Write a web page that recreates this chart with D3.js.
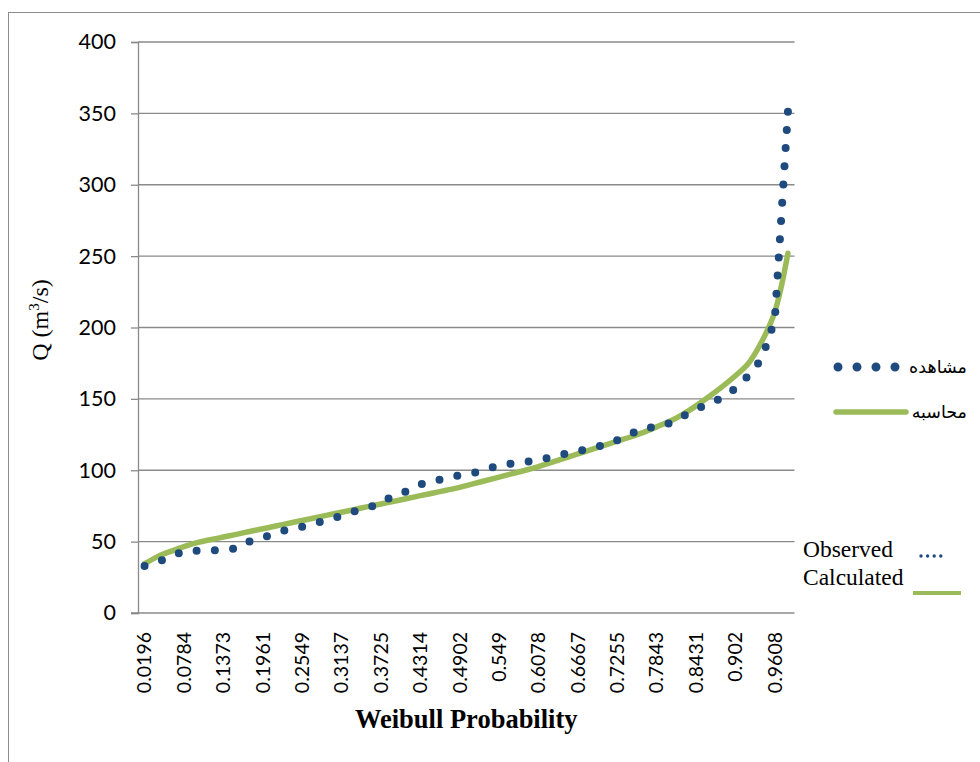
<!DOCTYPE html>
<html><head><meta charset="utf-8">
<script src="https://cdn.jsdelivr.net/npm/d3@7"></script>
<style>body{margin:0;background:#fff}svg{display:block}</style>
</head><body>
<svg id="chart" width="980" height="762"></svg>
<script>
// ---- data ----
const categories = ["0.0196","0.0392","0.0588","0.0784","0.098","0.1176","0.1373","0.1569","0.1765","0.1961",
"0.2157","0.2353","0.2549","0.2745","0.2941","0.3137","0.3333","0.3529","0.3725","0.3922",
"0.4118","0.4314","0.451","0.4706","0.4902","0.5098","0.5294","0.549","0.5686","0.5882",
"0.6078","0.6275","0.6471","0.6667","0.6863","0.7059","0.7255","0.7451","0.7647","0.7843",
"0.8039","0.8235","0.8431","0.8627","0.8824","0.902","0.9216","0.9412","0.9608","0.9804"];
const observed = [33.0,35.7,39.5,43.3,43.6,43.9,44.3,45.2,50.2,52.9,
55.8,58.9,60.4,62.8,65.4,68.1,71.2,73.6,76.9,82.7,
85.3,90.0,92.8,94.1,96.6,98.1,100.3,103.7,104.7,105.8,
107.1,109.3,111.4,113.3,115.2,117.8,121.1,125.4,129.7,130.0,
133.1,137.9,142.8,146.8,150.8,157.4,166.4,178.1,205.3,351.2];
const calculated = [34.5,39.5,43.2,46.5,49.3,51.3,53.2,55.1,57.1,59.0,
60.9,62.9,64.8,66.7,68.7,70.6,72.5,74.5,76.4,78.3,
80.2,82.2,84.1,86.0,88.0,90.4,92.8,95.2,97.6,100.0,
102.6,105.5,108.5,111.5,114.4,117.4,120.4,123.3,126.5,130.4,
134.3,139.2,145.1,151.6,158.6,166.2,175.0,190.0,211.0,252.0];
const yTicks = [0,50,100,150,200,250,300,350,400];
const xTitle = "Weibull Probability";
const legendFa = ["مشاهده","محاسبه"];
const legendEn = ["Observed","Calculated"];

// ---- layout ----
const svg = d3.select("#chart");
const L = 138, R = 794.5, T = 42, B = 613;
const blue = "#1F4A7D", green = "#9BBB59", grid = "#8a8a8a";
const x = d3.scaleBand().domain(categories).range([L, R]).padding(0);
const y = d3.scaleLinear().domain([0, 400]).range([B, T]);
const cx = c => x(c) + x.bandwidth() / 2;

// outer border (only left and top visible)
svg.append("rect").attr("x", 8.5).attr("y", 12.5).attr("width", 1200).attr("height", 1000)
  .attr("fill", "none").attr("stroke", "#8c8c8c").attr("stroke-width", 1);

// gridlines
svg.append("g").selectAll("line").data(yTicks.filter(d => d > 0)).join("line")
  .attr("x1", L).attr("x2", R).attr("y1", d => y(d)).attr("y2", d => y(d))
  .attr("stroke", grid).attr("stroke-width", 1.3);

// y axis
const yAxis = svg.append("g").attr("transform", `translate(${L},0)`)
  .call(d3.axisLeft(y).tickValues(yTicks).tickSize(7).tickPadding(15));
yAxis.select(".domain").attr("stroke", grid).attr("stroke-width", 1.3);
yAxis.selectAll(".tick line").attr("stroke", grid).attr("stroke-width", 1.3);
yAxis.selectAll(".tick text").attr("font-family", "Lato, sans-serif").attr("font-size", 21.5).attr("fill", "#000");

// x axis
const xAxis = svg.append("g").attr("transform", `translate(0,${B})`)
  .call(d3.axisBottom(x).tickValues(categories.filter((d, i) => i % 3 === 0)).tickSize(0).tickPadding(0));
xAxis.select(".domain").attr("stroke", grid).attr("stroke-width", 1.3).attr("d", `M${L - 7},0H${R}`);
xAxis.selectAll(".tick text")
  .attr("font-family", "Lato, sans-serif").attr("font-size", 19.5).attr("fill", "#000")
  .attr("transform", "rotate(-90)").attr("x", -19).attr("y", 0).attr("dy", "0.35em")
  .attr("text-anchor", "end");

// y title
const yt = svg.append("text").attr("transform", "translate(48,320) rotate(-90)")
  .attr("text-anchor", "middle").attr("font-family", "'Liberation Serif', 'Times New Roman', serif")
  .attr("font-size", 24).attr("fill", "#000");
yt.append("tspan").text("Q (m");
yt.append("tspan").text("3").attr("font-size", 15).attr("dy", -9);
yt.append("tspan").text("/s)").attr("dy", 9);

// x title
svg.append("text").attr("x", (L + R) / 2).attr("y", 728).attr("text-anchor", "middle")
  .attr("font-family", "'Liberation Serif', 'Times New Roman', serif").attr("font-weight", "bold")
  .attr("font-size", 26.5).attr("fill", "#000").text(xTitle);

// calculated (smooth)
const lineCalc = d3.line().x((d, i) => cx(categories[i])).y(d => y(d)).curve(d3.curveCatmullRom.alpha(0.5));
svg.append("path").attr("d", lineCalc(calculated)).attr("fill", "none")
  .attr("stroke", green).attr("stroke-width", 5.5).attr("stroke-linecap", "round");

// observed (round-dot line)
const lineObs = d3.line().x((d, i) => cx(categories[i])).y(d => y(d));
const obsPath = svg.append("path").attr("d", lineObs(observed)).attr("fill", "none")
  .attr("stroke", blue).attr("stroke-width", 8).attr("stroke-linecap", "round");
const len = obsPath.node().getTotalLength();
const gap = len / Math.round(len / 18.4);
obsPath.attr("stroke-dasharray", `0,${gap}`);

// Persian legend
svg.append("line").attr("x1", 838).attr("x2", 896).attr("y1", 367).attr("y2", 367)
  .attr("stroke", blue).attr("stroke-width", 9).attr("stroke-linecap", "round").attr("stroke-dasharray", "0,19");
svg.append("line").attr("x1", 836).attr("x2", 906).attr("y1", 412).attr("y2", 412)
  .attr("stroke", green).attr("stroke-width", 5.5).attr("stroke-linecap", "round");
svg.selectAll("text.fa").data(legendFa).join("text").attr("class", "fa")
  .attr("x", 967).attr("y", (d, i) => i === 0 ? 367 : 412).attr("dy", "0.35em")
  .attr("text-anchor", "end").attr("font-family", "'DejaVu Sans', sans-serif").attr("font-size", 17.5)
  .attr("fill", "#000").text(d => d);

// English legend
svg.selectAll("text.en").data(legendEn).join("text").attr("class", "en")
  .attr("x", 803).attr("y", (d, i) => i === 0 ? 557 : 585)
  .attr("font-family", "'Liberation Serif', 'Times New Roman', serif").attr("font-size", 23.5)
  .attr("fill", "#000").text(d => d);
svg.append("line").attr("x1", 921).attr("x2", 941).attr("y1", 556).attr("y2", 556)
  .attr("stroke", blue).attr("stroke-width", 3.4).attr("stroke-linecap", "round").attr("stroke-dasharray", "0,6.6");
svg.append("line").attr("x1", 913).attr("x2", 961).attr("y1", 593).attr("y2", 593)
  .attr("stroke", green).attr("stroke-width", 4);
</script>
</body></html>
